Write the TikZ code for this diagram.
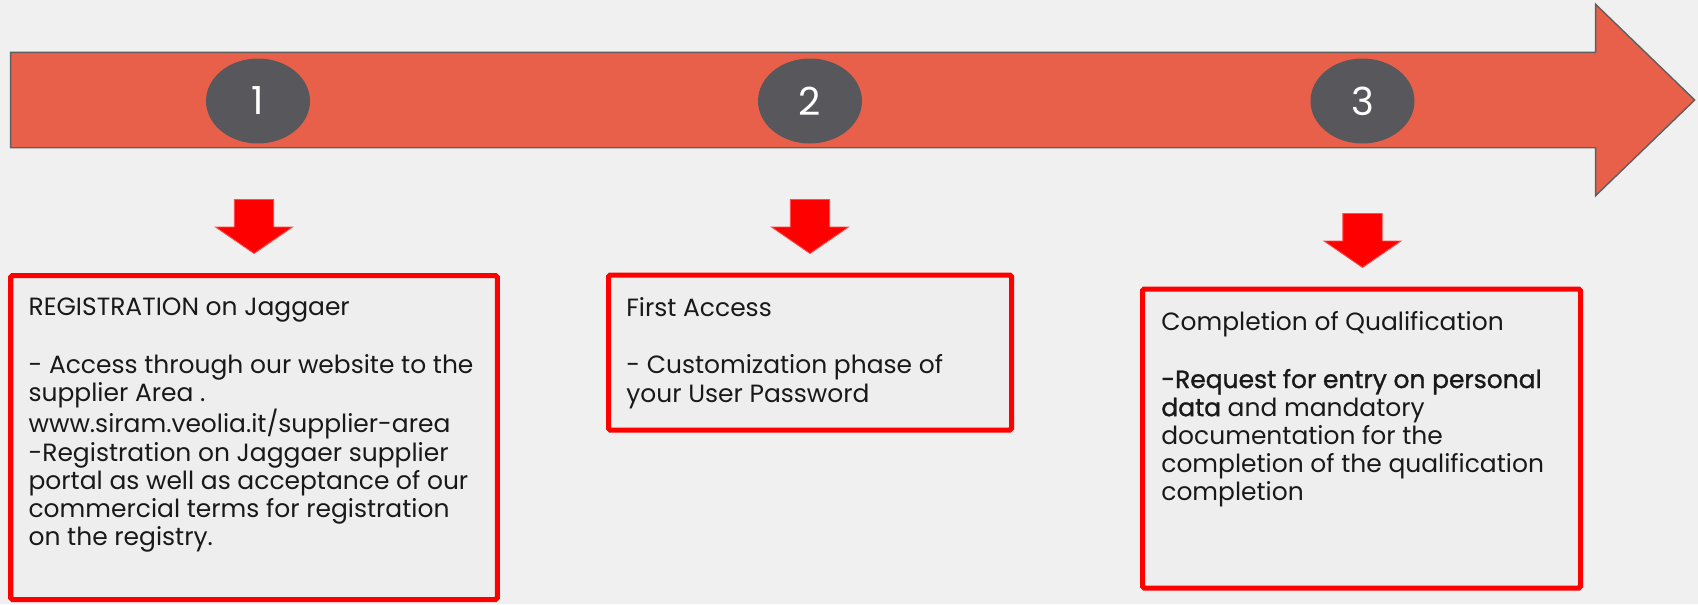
\documentclass[tikz,border=0pt]{standalone}
\usepackage{fontspec}
\setmainfont{Poppins}
\newfontface\halfbold{Poppins}[FakeBold=1.2]
\usepackage{tikz}
\usetikzlibrary{shapes,arrows}
\definecolor{timeorange}{HTML}{E8604A}
\definecolor{numgray}{HTML}{58585C}
\definecolor{bggray}{HTML}{F0F0F0}
\definecolor{boxfill}{HTML}{EEEEEE}
\definecolor{edgegray}{HTML}{5F5F5F}
\tikzstyle{timeline} = [single arrow, draw=edgegray, fill=timeorange, line width=0.8pt,
minimum height=33.68cm, single arrow head extend=0.96cm,
single arrow tip angle=88, inner xsep=0pt, inner ysep=0.94cm]
\tikzstyle{stepnum} = [ellipse, fill=numgray, text=white, minimum width=2.08cm,
minimum height=1.7cm, font=\fontsize{22}{26}\selectfont]
\tikzstyle{downarrow} = [single arrow, draw=red!70!white, fill=red, line width=0.5pt,
shape border rotate=270, minimum height=1.08cm,
single arrow head extend=0.375cm, single arrow tip angle=111, inner xsep=0.385cm, inner ysep=0pt]
\tikzstyle{stepbox} = [rectangle, draw=red, line width=0.1cm, rounded corners=1pt, fill=boxfill]
\tikzstyle{steptext} = [anchor=north west, inner sep=0pt, align=left, text=black!90,
font=\fontsize{14.2}{16.0}\selectfont]

\begin{document}
\begin{tikzpicture}
	\fill [bggray] (0,0) rectangle (33.96,-12.08);
	\useasboundingbox (0,0) rectangle (33.96,-12.08);
	
	\node [timeline, anchor=tail] (flow) at (0.2,-2.0) {};
	\node [stepnum] (n1) at (5.16,-2.02) {1};
	\node [stepnum] (n2) at (16.2,-2.02) {2};
	\node [stepnum] (n3) at (27.25,-2.02) {3};
	
	\node [downarrow, anchor=tip] (down1) at (5.08,-5.08) {};
	\node [downarrow, anchor=tip] (down2) at (16.2,-5.08) {};
	\node [downarrow, anchor=tip] (down3) at (27.25,-5.36) {};
	
	\node [stepbox, minimum width=9.73cm, minimum height=6.48cm] (reg) at (5.08,-8.75) {};
	\node [stepbox, minimum width=8.06cm, minimum height=3.1cm] (access) at (16.2,-7.05) {};
	\node [stepbox, minimum width=8.76cm, minimum height=5.98cm] (qual) at (27.23,-8.77) {};
	
	\node [steptext] (regtext) at ([xshift=0.4cm,yshift=-0.5cm]reg.north west)
	{REGISTRATION on Jaggaer\\[16.5pt]
	- Access through our website to the\\
	supplier Area .\\
	www.siram.veolia.it/supplier-area\\
	-Registration on Jaggaer supplier\\
	portal as well as acceptance of our\\
	commercial terms for registration\\
	on the registry.};
	\node [steptext] (accesstext) at ([xshift=0.4cm,yshift=-0.5cm]access.north west)
	{First Access\\[16.5pt]
	- Customization phase of\\
	your User Password};
	\node [steptext] (qualtext) at ([xshift=0.42cm,yshift=-0.5cm]qual.north west)
	{Completion of Qualification\\[16.5pt]
	{\halfbold -Request for entry on personal}\\
	{\halfbold data} and mandatory\\
	documentation for the\\
	completion of the qualification\\
	completion};
	
\end{tikzpicture}
\end{document}
